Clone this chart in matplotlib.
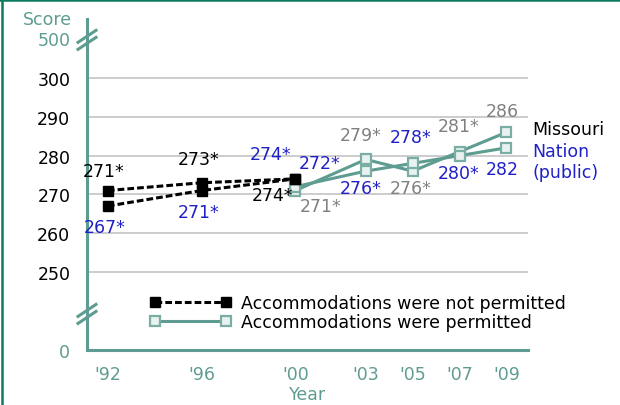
import numpy as np
import matplotlib as mpl
mpl.use('Agg')
from matplotlib import pyplot as plt
from matplotlib.lines import Line2D

mpl.rc('font', family='DejaVu Sans', size=12.5)

# data
years_np = [1992, 1996, 2000]
mo_np = [271, 273, 274]
nat_np = [267, 271, 274]
mo_np_sig = [True, True, True]
nat_np_sig = [True, True, True]

years_p = [2000, 2003, 2005, 2007, 2009]
mo_p = [271, 279, 276, 281, 286]
nat_p = [272, 276, 278, 280, 282]
mo_p_sig = [True, True, True, True, False]
nat_p_sig = [True, True, True, True, False]

x_ticks = [1992, 1996, 2000, 2003, 2005, 2007, 2009]
x_labels = ["'92", "'96", "'00", "'03", "'05", "'07", "'09"]
y_ticks = [0, 250, 260, 270, 280, 290, 300, 500]
y_grid = [250, 260, 270, 280, 290, 300]

# label offsets in pixels (dx right, dy down)
off_mo_np = [(-4, -20), (-3, -24), (-23, 16)]
off_nat_np = [(-3, 21), (-3, 21), (-25, -25)]
off_mo_p = [(25, 15), (-5, -24), (-2, 17), (-1, -26), (-4, -21)]
off_nat_p = [(24, -24), (-5, 17), (-2, -26), (-1, 17), (-4, 21)]

teal = '#5e9c91'
frame = '#0a7a5e'
blue = '#2020c8'
gray = '#808080'

# broken y axis: 0..250 and 300..500 squeezed
brk_in = [0, 250, 300, 500, 600]
brk_out = [229.9, 250, 300, 310.3, 315.2]
fwd = lambda v: np.interp(v, brk_in, brk_out)
inv = lambda t: np.interp(t, brk_out, brk_in)

fig = plt.figure(figsize=(6.2, 4.06), dpi=100)
ax = fig.add_axes([87/620, 1-351/406, 441/620, 331/406])
ax.set_yscale('function', functions=(fwd, inv))
ax.set_ylim(0, 600)
ax.set_xlim(1991.11, 2009.92)

ax.hlines(y_grid, 0, 1, transform=ax.get_yaxis_transform(), color='#c4c4c4', lw=1.2, zorder=0)

p_kw = dict(color=teal, lw=2.2, marker='s', ms=7.5, mfc='#e9f2f0', mec='#7aaea4', mew=1.6, zorder=3)
np_kw = dict(color='k', lw=2.2, ls=(0, (2.2, 1.0)), marker='s', ms=6.5, zorder=4)
l_np, = ax.plot(years_np, mo_np, **np_kw)
ax.plot(years_np, nat_np, **np_kw)
l_p, = ax.plot(years_p, mo_p, **p_kw)
ax.plot(years_p, nat_p, **p_kw)


def label(xs, ys, sig, offs, c):
    for x, y, s, (dx, dy) in zip(xs, ys, sig, offs):
        txt = str(y) + ('*' if s else '')
        ax.annotate(txt, (x, y), xytext=(dx*0.72, -dy*0.72), textcoords='offset points',
                    ha='center', va='center', color=c, zorder=5)


label(years_np, mo_np, mo_np_sig, off_mo_np, 'k')
label(years_np, nat_np, nat_np_sig, off_nat_np, blue)
label(years_p, mo_p, mo_p_sig, off_mo_p, gray)
label(years_p, nat_p, nat_p_sig, off_nat_p, blue)

ax.set_xticks(x_ticks)
ax.set_xticklabels(x_labels, color=teal)
ax.set_yticks(y_ticks)
ax.set_yticklabels([str(v) for v in y_ticks])
for t, v in zip(ax.get_yticklabels(), y_ticks):
    t.set_color(teal if v in (0, 500) else 'k')
ax.tick_params(axis='both', length=0)
ax.tick_params(axis='y', pad=12)
ax.tick_params(axis='x', pad=11)
ax.set_xlabel('Year', color=teal, labelpad=1)

for s in ['top', 'right']:
    ax.spines[s].set_visible(False)
for s in ['left', 'bottom']:
    ax.spines[s].set_color(teal)
    ax.spines[s].set_linewidth(2.2)

# break marks on y axis
dx, dy = 9/441, 6/331
for yc in [0.937, 0.109]:
    for sh in [-0.0106, 0.0106]:
        ax.add_line(Line2D([-dx, dx], [yc+sh-dy, yc+sh+dy], transform=ax.transAxes,
                           color=teal, lw=2.2, clip_on=False, zorder=6))

ax.legend([l_np, l_p], ['Accommodations were not permitted', 'Accommodations were permitted'],
          loc='center left', bbox_to_anchor=((150-87)/441, (351-313.5)/331),
          frameon=False, numpoints=2, handlelength=4.7, handletextpad=0.55,
          labelspacing=0.1, borderpad=0, borderaxespad=0)

fig.text(72/620, 1-20/406, 'Score', color=teal, ha='right', va='center')
fig.text(532/620, 1-130/406, 'Missouri', color='k', ha='left', va='center')
fig.text(532/620, 1-152/406, 'Nation', color=blue, ha='left', va='center')
fig.text(532/620, 1-173/406, '(public)', color=blue, ha='left', va='center')

# frame on top and left
fig.add_artist(Line2D([0, 1], [1-1/406, 1-1/406], transform=fig.transFigure, color=frame, lw=1.8))
fig.add_artist(Line2D([2/620, 2/620], [0, 1], transform=fig.transFigure, color=frame, lw=1.8))

fig.savefig('out.png', dpi=100)
